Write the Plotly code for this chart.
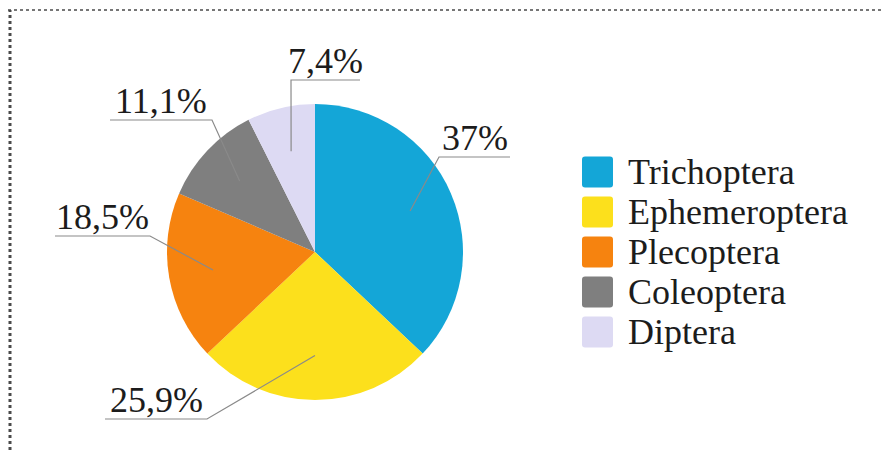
import math
import plotly.graph_objects as go

# Share of each insect order (%)
groups = ["Trichoptera", "Ephemeroptera", "Plecoptera", "Coleoptera", "Diptera"]
shares = [37, 25.9, 18.5, 11.1, 7.4]
share_labels = ["37%", "25,9%", "18,5%", "11,1%", "7,4%"]
colors = ["#14A6D7", "#FCE01C", "#F6830F", "#7F7F7F", "#DDDAF3"]

# Canvas geometry (pixels)
W, H = 881, 450
CX, CY, R = 315, 252, 148
FONT = "Liberation Serif"
TEXT_COLOR = "#1c1c1c"
LEADER_COLOR = "#8a8a8a"

# Callout layout: elbow of the leader line and far end of the underline
callouts = [
    dict(elbow=(439, 157), end=(510, 157)),
    dict(elbow=(207, 419), end=(105, 419)),
    dict(elbow=(150, 236), end=(55, 236)),
    dict(elbow=(212, 120), end=(110, 120)),
    dict(elbow=(291, 80), end=(360, 80)),
]


def px(x):
    return x / W


def py(y):
    return 1 - y / H


fig = go.Figure(
    go.Pie(
        labels=groups,
        values=shares,
        sort=False,
        direction="clockwise",
        rotation=0,
        marker=dict(colors=colors, line=dict(width=0)),
        textinfo="none",
        hoverinfo="label+percent",
        showlegend=False,
        domain=dict(x=[px(CX - R), px(CX + R)], y=[py(CY + R), py(CY - R)]),
    )
)

shapes = []
annotations = []

# Leader lines start inside each slice, at its mid-angle
total = sum(shares)
cum = 0.0
for value, text, co in zip(shares, share_labels, callouts):
    mid = (cum + value / 2) / total * 2 * math.pi
    cum += value
    ix = CX + 0.7 * R * math.sin(mid)
    iy = CY - 0.7 * R * math.cos(mid)
    ex, ey = co["elbow"]
    fx, fy = co["end"]
    shapes.append(dict(
        type="path", xref="paper", yref="paper",
        path=f"M{px(ix)},{py(iy)} L{px(ex)},{py(ey)} L{px(fx)},{py(fy)}",
        line=dict(color=LEADER_COLOR, width=1.2),
    ))
    annotations.append(dict(
        x=px((ex + fx) / 2), y=py(ey + 3), xref="paper", yref="paper",
        text=text, showarrow=False, xanchor="center", yanchor="bottom",
        font=dict(family=FONT, size=36, color=TEXT_COLOR),
    ))

# Legend: coloured squares with names
for i, (name, col) in enumerate(zip(groups, colors)):
    yc = 172 + 40 * i
    x0, x1 = 582, 613
    y0, y1 = yc - 15.5, yc + 15.5
    rr = 3
    path = (
        f"M{px(x0 + rr)},{py(y0)} L{px(x1 - rr)},{py(y0)} "
        f"Q{px(x1)},{py(y0)} {px(x1)},{py(y0 + rr)} "
        f"L{px(x1)},{py(y1 - rr)} Q{px(x1)},{py(y1)} {px(x1 - rr)},{py(y1)} "
        f"L{px(x0 + rr)},{py(y1)} Q{px(x0)},{py(y1)} {px(x0)},{py(y1 - rr)} "
        f"L{px(x0)},{py(y0 + rr)} Q{px(x0)},{py(y0)} {px(x0 + rr)},{py(y0)} Z"
    )
    shapes.append(dict(type="path", xref="paper", yref="paper", path=path,
                       fillcolor=col, line=dict(width=0)))
    annotations.append(dict(
        x=px(626), y=py(yc), xref="paper", yref="paper",
        text=name, showarrow=False, xanchor="left", yanchor="middle",
        font=dict(family=FONT, size=36, color=TEXT_COLOR),
    ))

# Dotted frame along the top and left edges
shapes.append(dict(type="line", xref="paper", yref="paper",
                   x0=px(8), x1=1, y0=py(10), y1=py(10),
                   line=dict(color="#4a4a4a", width=1.5, dash="dot")))
shapes.append(dict(type="line", xref="paper", yref="paper",
                   x0=px(10), x1=px(10), y0=0, y1=py(10),
                   line=dict(color="#4a4a4a", width=3, dash="dot")))

fig.update_layout(
    width=W, height=H,
    margin=dict(l=0, r=0, t=0, b=0),
    paper_bgcolor="white",
    plot_bgcolor="white",
    shapes=shapes,
    annotations=annotations,
)

fig.write_html("out.html")
